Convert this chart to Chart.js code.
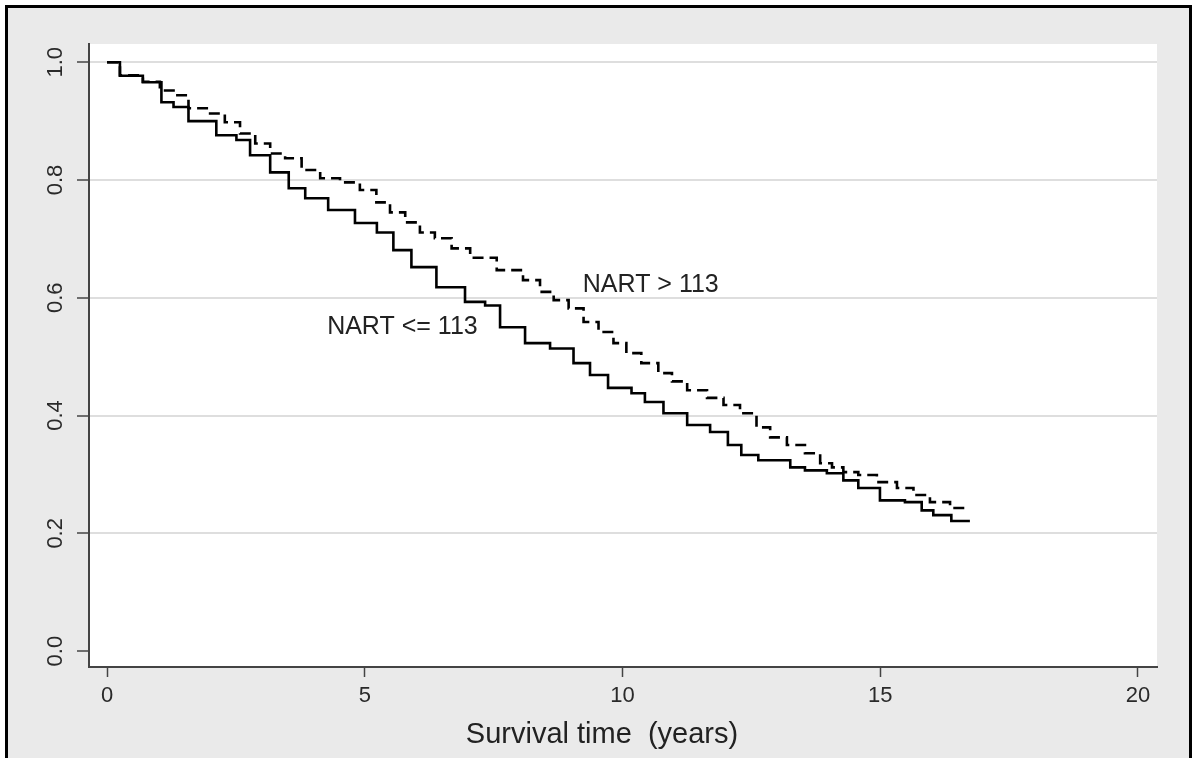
<!DOCTYPE html>
<html>
<head>
<meta charset="utf-8">
<script src="https://cdn.jsdelivr.net/npm/chart.js@4.4.1/dist/chart.umd.min.js"></script>
<style>
  html, body { margin: 0; padding: 0; background: #ffffff; overflow: hidden; }
  #frame { position: absolute; left: 5px; top: 5px; width: 1181px; height: 780px;
           border: 3px solid #000; background: #eaeaea; }
  #c { position: absolute; left: 0; top: 0; }
</style>
</head>
<body>
<div id="frame"></div>
<canvas id="c" width="1195" height="758"></canvas>
<script>
// ---- data (Kaplan-Meier survival estimates) ----
const timeLow = [0, 0.5, 0.89, 1.22, 1.36, 1.8, 2.44, 2.58, 2.97, 3.36, 3.69, 4.0, 4.58, 5.04, 5.43, 5.68, 6.13, 6.65, 7.24, 7.43, 7.82, 8.40, 8.79, 9.31, 9.43, 10.01, 10.34, 10.53, 11.06, 11.45, 11.95, 12.14, 12.47, 12.8, 13.2, 13.31, 13.77, 14.16, 14.41, 14.74, 15.25, 15.71, 15.9, 16.16, 16.6, 16.74];
const survLow = [1.0, 0.977, 0.966, 0.932, 0.924, 0.90, 0.876, 0.868, 0.842, 0.813, 0.786, 0.769, 0.749, 0.727, 0.711, 0.681, 0.652, 0.618, 0.593, 0.587, 0.550, 0.523, 0.514, 0.489, 0.469, 0.447, 0.438, 0.423, 0.404, 0.384, 0.372, 0.350, 0.333, 0.324, 0.324, 0.312, 0.307, 0.302, 0.290, 0.277, 0.256, 0.253, 0.239, 0.231, 0.221, 0.221];

const timeHigh = [0, 0.5, 0.89, 1.16, 1.42, 1.74, 2.13, 2.44, 2.72, 3.03, 3.3, 3.61, 3.94, 4.33, 4.71, 5.1, 5.35, 5.63, 5.94, 6.2, 6.52, 6.85, 7.24, 7.88, 8.26, 8.54, 8.79, 9.12, 9.37, 9.7, 9.95, 10.2, 10.53, 10.86, 11.06, 11.45, 11.83, 12.09, 12.47, 12.73, 13.0, 13.38, 13.7, 13.97, 14.16, 14.41, 14.74, 15.13, 15.52, 15.77, 16.16, 16.55, 16.7];
const survHigh = [1.0, 0.978, 0.967, 0.952, 0.944, 0.922, 0.913, 0.898, 0.879, 0.862, 0.845, 0.837, 0.817, 0.803, 0.796, 0.783, 0.762, 0.745, 0.728, 0.711, 0.701, 0.684, 0.668, 0.647, 0.630, 0.610, 0.596, 0.582, 0.559, 0.542, 0.523, 0.506, 0.489, 0.472, 0.458, 0.443, 0.430, 0.418, 0.404, 0.380, 0.363, 0.350, 0.336, 0.319, 0.312, 0.304, 0.299, 0.287, 0.277, 0.265, 0.253, 0.243, 0.243];

const xTicks = [0, 5, 10, 15, 20];
const yTicks = [0, 0.2, 0.4, 0.6, 0.8, 1.0];
const seriesLabels = ['NART <= 113', 'NART > 113'];
const labelPos = [[4.27, 0.550], [9.23, 0.621]];
const xTitle = 'Survival time  (years)';

const FONT = 'Arial, "Liberation Sans", Helvetica, sans-serif';

function pts(t, s) { return t.map((v, i) => ({ x: v, y: s[i] })); }

const plotBg = {
  id: 'plotBg',
  beforeDraw(chart) {
    const { ctx, chartArea: a } = chart;
    ctx.save();
    ctx.fillStyle = '#ffffff';
    ctx.fillRect(a.left, a.top, a.right - a.left, a.bottom - a.top);
    ctx.restore();
  }
};

const texts = {
  id: 'texts',
  afterDraw(chart) {
    const { ctx } = chart;
    const xs = chart.scales.x, ys = chart.scales.y;
    ctx.save();
    // rotated y tick labels
    ctx.fillStyle = '#2a2a2a';
    ctx.font = '22px ' + FONT;
    ctx.textAlign = 'center';
    ctx.textBaseline = 'middle';
    ys.ticks.forEach(t => {
      const py = ys.getPixelForValue(t.value);
      ctx.save();
      ctx.translate(56, py);
      ctx.rotate(-Math.PI / 2);
      ctx.fillText(t.value.toFixed(1), 0, 0);
      ctx.restore();
    });
    // in-plot curve labels
    ctx.font = '25px ' + FONT;
    ctx.textAlign = 'left';
    ctx.fillStyle = '#222';
    seriesLabels.forEach((lab, i) => {
      ctx.fillText(lab, xs.getPixelForValue(labelPos[i][0]), ys.getPixelForValue(labelPos[i][1]));
    });
    // x axis title
    ctx.font = '29px ' + FONT;
    ctx.textAlign = 'center';
    ctx.fillText(xTitle, 602, 735);
    ctx.restore();
  }
};

new Chart(document.getElementById('c'), {
  type: 'line',
  data: {
    datasets: [
      { label: seriesLabels[0], data: pts(timeLow, survLow), borderColor: '#000', borderWidth: 2.6,
        stepped: 'middle', pointRadius: 0, fill: false },
      { label: seriesLabels[1], data: pts(timeHigh, survHigh), borderColor: '#000', borderWidth: 2.6,
        borderDash: [11, 6], stepped: 'middle', pointRadius: 0, fill: false }
    ]
  },
  options: {
    responsive: false,
    animation: false,
    devicePixelRatio: 1,
    layout: { padding: { top: 44, right: 38, left: 0, bottom: 0 } },
    plugins: { legend: { display: false }, tooltip: { enabled: false } },
    scales: {
      x: {
        type: 'linear', min: -0.35, max: 20.37,
        afterBuildTicks: s => { s.ticks = xTicks.map(v => ({ value: v })); },
        afterFit: s => { s.height = 91; },
        border: { display: true, color: '#444', width: 2 },
        grid: { drawOnChartArea: false, drawTicks: true, tickLength: 10, tickColor: '#444', tickWidth: 1.5 },
        ticks: { color: '#2a2a2a', font: { family: FONT, size: 22 }, padding: 6, maxRotation: 0 }
      },
      y: {
        type: 'linear', min: -0.027, max: 1.031,
        afterBuildTicks: s => { s.ticks = yTicks.map(v => ({ value: v })); },
        afterFit: s => { s.width = 89; },
        border: { display: true, color: '#444', width: 2 },
        grid: {
          color: c => (c.tick && c.tick.value === 0) ? 'rgba(0,0,0,0)' : '#dedede',
          lineWidth: 2, drawTicks: true, tickLength: 12, tickColor: '#444', tickWidth: 1.5
        },
        ticks: { display: false }
      }
    }
  },
  plugins: [plotBg, texts]
});
</script>
</body>
</html>
